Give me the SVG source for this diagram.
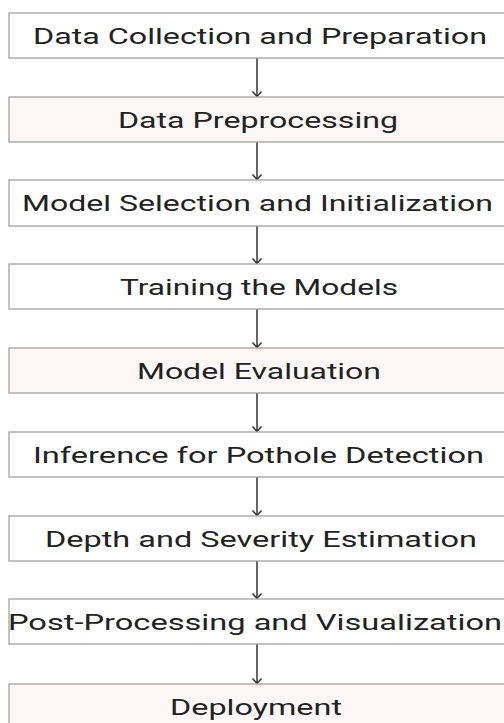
<svg xmlns="http://www.w3.org/2000/svg" width="504" height="723" viewBox="0 0 504 723">
<style>
.box{fill:#ffffff;stroke:#9a9a9a;stroke-width:1.2}
.pink{fill:#fdf8f7}
.lbl{font-family:Roboto,"Liberation Sans",sans-serif;font-size:22px;fill:#222;text-anchor:middle}
.conn{stroke:#333;stroke-width:1.5;fill:none}
.head{stroke:#333;stroke-width:1.5;fill:none}
</style>
<rect width="504" height="723" fill="#ffffff"/>
<g id="connectors">
<path class="conn" d="M257,58 V96"/><path class="head" d="M252.5,91.5 L257,96.5 L261.5,91.5"/>
<path class="conn" d="M257,142 V179"/><path class="head" d="M252.5,174.5 L257,179.5 L261.5,174.5"/>
<path class="conn" d="M257,226 V263"/><path class="head" d="M252.5,258.5 L257,263.5 L261.5,258.5"/>
<path class="conn" d="M257,309 V347"/><path class="head" d="M252.5,342.5 L257,347.5 L261.5,342.5"/>
<path class="conn" d="M257,393 V431"/><path class="head" d="M252.5,426.5 L257,431.5 L261.5,426.5"/>
<path class="conn" d="M257,477 V515"/><path class="head" d="M252.5,510.5 L257,515.5 L261.5,510.5"/>
<path class="conn" d="M257,561 V598"/><path class="head" d="M252.5,593.5 L257,598.5 L261.5,593.5"/>
<path class="conn" d="M257,644 V683"/><path class="head" d="M252.5,678.5 L257,683.5 L261.5,678.5"/>
</g>
<g id="n1"><rect class="box" x="9" y="13" width="505" height="45"/><text class="lbl" x="260" y="43.5" textLength="454" lengthAdjust="spacingAndGlyphs">Data Collection and Preparation</text></g>
<g id="n2"><rect class="box pink" x="9" y="97" width="505" height="45"/><text class="lbl" x="258" y="127.5" textLength="280" lengthAdjust="spacingAndGlyphs">Data Preprocessing</text></g>
<g id="n3"><rect class="box" x="9" y="180" width="505" height="46"/><text class="lbl" x="257.5" y="211" textLength="471" lengthAdjust="spacingAndGlyphs">Model Selection and Initialization</text></g>
<g id="n4"><rect class="box" x="9" y="264" width="505" height="45"/><text class="lbl" x="259" y="294.5" textLength="278" lengthAdjust="spacingAndGlyphs">Training the Models</text></g>
<g id="n5"><rect class="box pink" x="9" y="348" width="505" height="45"/><text class="lbl" x="259" y="378.5" textLength="244" lengthAdjust="spacingAndGlyphs">Model Evaluation</text></g>
<g id="n6"><rect class="box" x="9" y="432" width="505" height="45"/><text class="lbl" x="258.5" y="462.5" textLength="451" lengthAdjust="spacingAndGlyphs">Inference for Pothole Detection</text></g>
<g id="n7"><rect class="box" x="9" y="516" width="505" height="45"/><text class="lbl" x="261" y="546.5" textLength="432" lengthAdjust="spacingAndGlyphs">Depth and Severity Estimation</text></g>
<g id="n8"><rect class="box" x="9" y="599" width="505" height="45"/><text class="lbl" x="255" y="629.5" textLength="494" lengthAdjust="spacingAndGlyphs">Post-Processing and Visualization</text></g>
<g id="n9"><rect class="box pink" x="9" y="684" width="505" height="45"/><text class="lbl" x="256" y="714.5" textLength="172" lengthAdjust="spacingAndGlyphs">Deployment</text></g>
</svg>
